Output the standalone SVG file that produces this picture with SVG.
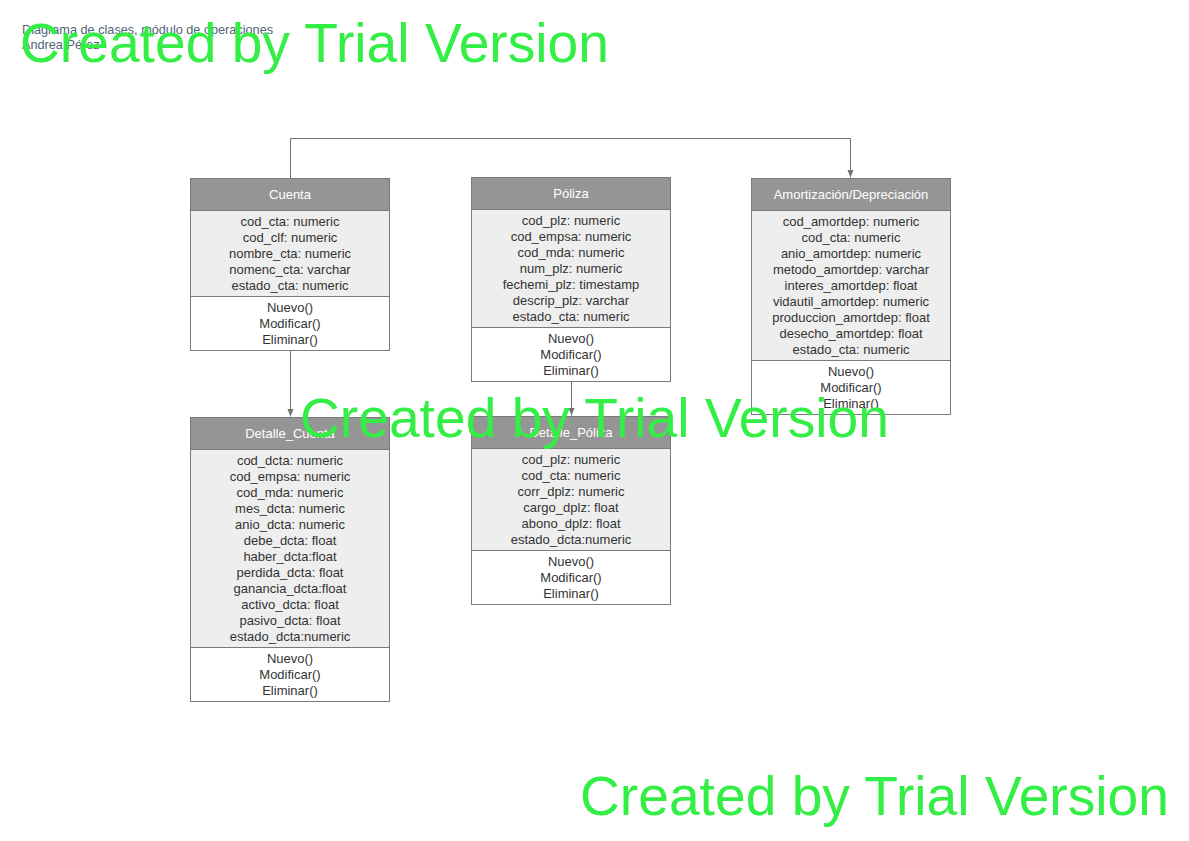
<svg xmlns="http://www.w3.org/2000/svg" width="1189" height="841" viewBox="0 0 1189 841">
<style>
.hd{fill:#959595;stroke:#7a7a7a;stroke-width:1}
.at{fill:#eeeeee;stroke:#7a7a7a;stroke-width:1}
.me{fill:#ffffff;stroke:#7a7a7a;stroke-width:1}
text{font-family:"Liberation Sans",Arial,sans-serif}
.ht{font-size:13px;fill:#ffffff;text-anchor:middle}
.t{font-size:13px;fill:#333333;text-anchor:middle}
.ttl{font-size:12.7px;fill:#4f6478}
.wm{font-size:55.2px;fill:#33ee44}
.cn{fill:none;stroke:#707070;stroke-width:1}
</style>
<defs>
<marker id="arr" viewBox="0 0 10 10" refX="10" refY="5" markerWidth="8" markerHeight="8" markerUnits="userSpaceOnUse" orient="auto">
<path d="M0,1 L10,5 L0,9 z" fill="#707070"/>
</marker>
</defs>
<rect width="1189" height="841" fill="#ffffff"/>
<g id="title">
<text class="ttl" x="22" y="34">Diagrama de clases, módulo de operaciones</text>
<text class="ttl" x="22" y="49">Andrea Pérez</text>
</g>
<g id="connectors">
<path class="cn" d="M290.5,178 V138.5 H850.5 V177.5" marker-end="url(#arr)"/>
<path class="cn" d="M290.5,350 V416.5" marker-end="url(#arr)"/>
<path class="cn" d="M571.5,381 V415.5" marker-end="url(#arr)"/>
</g>
<g id="cuenta">
<rect class="hd" x="190.5" y="178.5" width="199" height="32"/>
<rect class="at" x="190.5" y="210.5" width="199" height="86"/>
<rect class="me" x="190.5" y="296.5" width="199" height="54"/>
<text class="ht" x="290" y="199">Cuenta</text>
<text class="t" x="290" y="226">cod_cta: numeric</text>
<text class="t" x="290" y="242">cod_clf: numeric</text>
<text class="t" x="290" y="258">nombre_cta: numeric</text>
<text class="t" x="290" y="274">nomenc_cta: varchar</text>
<text class="t" x="290" y="290">estado_cta: numeric</text>
<text class="t" x="290" y="312">Nuevo()</text>
<text class="t" x="290" y="328">Modificar()</text>
<text class="t" x="290" y="344">Eliminar()</text>
</g>
<g id="poliza">
<rect class="hd" x="471.5" y="177.5" width="199" height="32"/>
<rect class="at" x="471.5" y="209.5" width="199" height="118"/>
<rect class="me" x="471.5" y="327.5" width="199" height="54"/>
<text class="ht" x="571" y="198">Póliza</text>
<text class="t" x="571" y="225">cod_plz: numeric</text>
<text class="t" x="571" y="241">cod_empsa: numeric</text>
<text class="t" x="571" y="257">cod_mda: numeric</text>
<text class="t" x="571" y="273">num_plz: numeric</text>
<text class="t" x="571" y="289">fechemi_plz: timestamp</text>
<text class="t" x="571" y="305">descrip_plz: varchar</text>
<text class="t" x="571" y="321">estado_cta: numeric</text>
<text class="t" x="571" y="343">Nuevo()</text>
<text class="t" x="571" y="359">Modificar()</text>
<text class="t" x="571" y="375">Eliminar()</text>
</g>
<g id="amortizacion">
<rect class="hd" x="751.5" y="178.5" width="199" height="32"/>
<rect class="at" x="751.5" y="210.5" width="199" height="150"/>
<rect class="me" x="751.5" y="360.5" width="199" height="54"/>
<text class="ht" x="851" y="199">Amortización/Depreciación</text>
<text class="t" x="851" y="226">cod_amortdep: numeric</text>
<text class="t" x="851" y="242">cod_cta: numeric</text>
<text class="t" x="851" y="258">anio_amortdep: numeric</text>
<text class="t" x="851" y="274">metodo_amortdep: varchar</text>
<text class="t" x="851" y="290">interes_amortdep: float</text>
<text class="t" x="851" y="306">vidautil_amortdep: numeric</text>
<text class="t" x="851" y="322">produccion_amortdep: float</text>
<text class="t" x="851" y="338">desecho_amortdep: float</text>
<text class="t" x="851" y="354">estado_cta: numeric</text>
<text class="t" x="851" y="376">Nuevo()</text>
<text class="t" x="851" y="392">Modificar()</text>
<text class="t" x="851" y="408">Eliminar()</text>
</g>
<g id="detalle_cuenta">
<rect class="hd" x="190.5" y="417.5" width="199" height="32"/>
<rect class="at" x="190.5" y="449.5" width="199" height="198"/>
<rect class="me" x="190.5" y="647.5" width="199" height="54"/>
<text class="ht" x="290" y="438">Detalle_Cuenta</text>
<text class="t" x="290" y="465">cod_dcta: numeric</text>
<text class="t" x="290" y="481">cod_empsa: numeric</text>
<text class="t" x="290" y="497">cod_mda: numeric</text>
<text class="t" x="290" y="513">mes_dcta: numeric</text>
<text class="t" x="290" y="529">anio_dcta: numeric</text>
<text class="t" x="290" y="545">debe_dcta: float</text>
<text class="t" x="290" y="561">haber_dcta:float</text>
<text class="t" x="290" y="577">perdida_dcta: float</text>
<text class="t" x="290" y="593">ganancia_dcta:float</text>
<text class="t" x="290" y="609">activo_dcta: float</text>
<text class="t" x="290" y="625">pasivo_dcta: float</text>
<text class="t" x="290" y="641">estado_dcta:numeric</text>
<text class="t" x="290" y="663">Nuevo()</text>
<text class="t" x="290" y="679">Modificar()</text>
<text class="t" x="290" y="695">Eliminar()</text>
</g>
<g id="detalle_poliza">
<rect class="hd" x="471.5" y="416.5" width="199" height="32"/>
<rect class="at" x="471.5" y="448.5" width="199" height="102"/>
<rect class="me" x="471.5" y="550.5" width="199" height="54"/>
<text class="ht" x="571" y="437">Detalle_Póliza</text>
<text class="t" x="571" y="464">cod_plz: numeric</text>
<text class="t" x="571" y="480">cod_cta: numeric</text>
<text class="t" x="571" y="496">corr_dplz: numeric</text>
<text class="t" x="571" y="512">cargo_dplz: float</text>
<text class="t" x="571" y="528">abono_dplz: float</text>
<text class="t" x="571" y="544">estado_dcta:numeric</text>
<text class="t" x="571" y="566">Nuevo()</text>
<text class="t" x="571" y="582">Modificar()</text>
<text class="t" x="571" y="598">Eliminar()</text>
</g>
<g id="watermarks">
<text class="wm" x="20" y="62">Created by Trial Version</text>
<text class="wm" x="300" y="437">Created by Trial Version</text>
<text class="wm" x="580" y="815">Created by Trial Version</text>
</g>
</svg>
